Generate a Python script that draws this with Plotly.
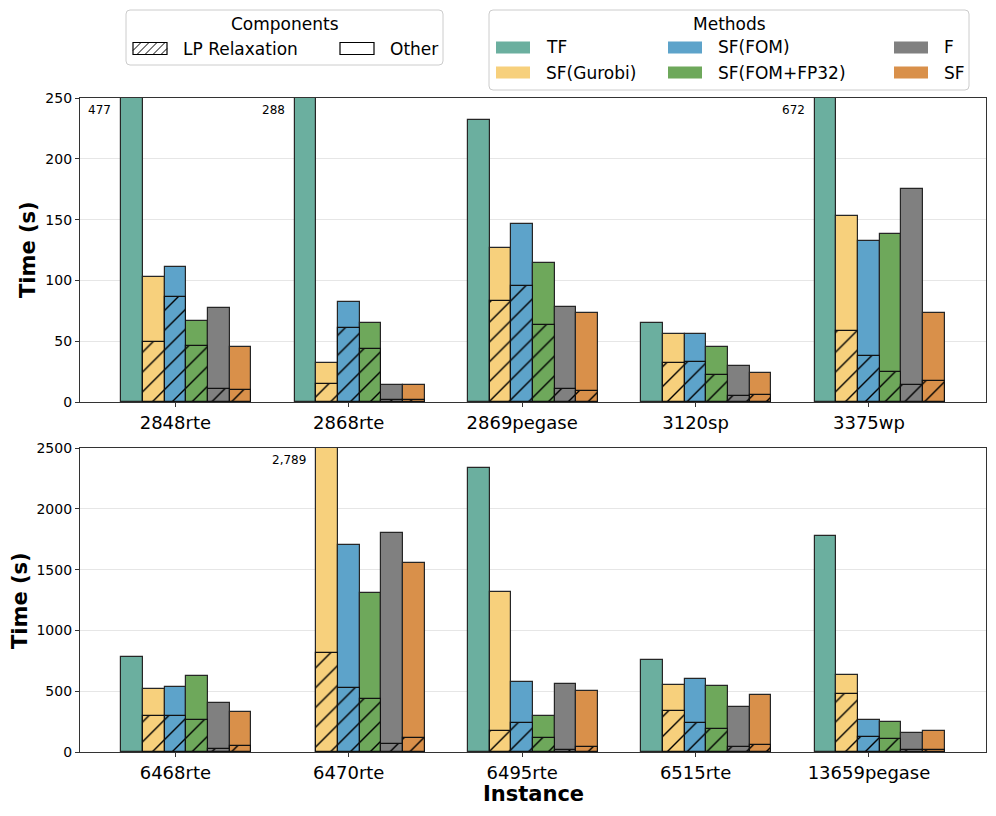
import plotly.graph_objects as go

# ---------------- data ----------------
methods = ["TF", "SF(Gurobi)", "SF(FOM)", "SF(FOM+FP32)", "F", "SF"]
colors = ["#6BAF9F", "#F7D07C", "#5DA3CA", "#6EA85B", "#808080", "#D9904A"]

top_instances = ["2848rte", "2868rte", "2869pegase", "3120sp", "3375wp"]
bottom_instances = ["6468rte", "6470rte", "6495rte", "6515rte", "13659pegase"]

# total time (s) per method, top panel
top_tf = [477, 288, 232, 65, 672]
top_gurobi = [103, 32, 127, 56, 153]
top_fom = [111, 82, 146, 56, 132]
top_fp32 = [67, 65, 114, 45, 138]
top_f = [77, 14, 78, 30, 175]
top_sf = [45, 14, 73, 24, 73]

# LP relaxation time (s), top panel
top_lp_tf = [None, None, None, None, None]
top_lp_gurobi = [49, 15, 83, 32, 58]
top_lp_fom = [86, 61, 95, 33, 38]
top_lp_fp32 = [46, 44, 63, 22, 25]
top_lp_f = [11, 2, 11, 5, 14]
top_lp_sf = [10, 2, 9, 6, 17]

# total time (s) per method, bottom panel
bot_tf = [783, None, 2336, 753, 1778]
bot_gurobi = [519, 2789, 1316, 550, 632]
bot_fom = [531, 1701, 577, 599, 261]
bot_fp32 = [626, 1308, 294, 539, 247]
bot_f = [399, 1805, 560, 371, 160]
bot_sf = [330, 1558, 503, 470, 170]

# LP relaxation time (s), bottom panel
bot_lp_tf = [None, None, None, None, None]
bot_lp_gurobi = [292, 811, 173, 338, 481]
bot_lp_fom = [292, 525, 239, 236, 121]
bot_lp_fp32 = [261, 440, 115, 187, 105]
bot_lp_f = [27, 63, 20, 41, 14]
bot_lp_sf = [52, 119, 39, 58, 20]

top_ticks = [0, 50, 100, 150, 200, 250]
bot_ticks = [0, 500, 1000, 1500, 2000, 2500]

# ---------------- layout constants ----------------
OFF = 8  # page body margin in the browser
W_FIG, H_FIG = 996 - OFF, 816 - OFF
ML, MR = 80 - OFF, 10
MT, MB = 98 - OFF, 64
PW = W_FIG - ML - MR
PH = H_FIG - MT - MB
BAR_W = 0.125
FONT = "DejaVu Sans"


def px(x):
    # screen pixel -> paper x
    return (x - OFF - ML) / PW


def py(y):
    # screen pixel -> paper y
    return (H_FIG - MB - (y - OFF)) / PH


panels = [
    dict(xa="x", ya="y", inst=top_instances, ymax=250, ticks=top_ticks,
         totals=[top_tf, top_gurobi, top_fom, top_fp32, top_f, top_sf],
         lps=[top_lp_tf, top_lp_gurobi, top_lp_fom, top_lp_fp32, top_lp_f, top_lp_sf]),
    dict(xa="x2", ya="y2", inst=bottom_instances, ymax=2500, ticks=bot_ticks,
         totals=[bot_tf, bot_gurobi, bot_fom, bot_fp32, bot_f, bot_sf],
         lps=[bot_lp_tf, bot_lp_gurobi, bot_lp_fom, bot_lp_fp32, bot_lp_f, bot_lp_sf]),
]

fig = go.Figure()
annotations = []

for p in panels:
    n = len(p["inst"])
    for i, m in enumerate(methods):
        xs = [k + (i - 2) * BAR_W for k in range(n)]
        fig.add_trace(go.Bar(
            x=xs, y=p["totals"][i], width=BAR_W, xaxis=p["xa"], yaxis=p["ya"],
            marker=dict(color=colors[i], line=dict(color="#262626", width=1.2)),
            name=m, showlegend=False, hoverinfo="skip"))
    for i, m in enumerate(methods):
        if all(v is None for v in p["lps"][i]):
            continue
        xs = [k + (i - 2) * BAR_W for k in range(n)]
        fig.add_trace(go.Bar(
            x=xs, y=p["lps"][i], width=BAR_W, xaxis=p["xa"], yaxis=p["ya"],
            marker=dict(color=colors[i], line=dict(color="#111111", width=1.2),
                        pattern=dict(shape="/", size=14, solidity=0.1,
                                     fgcolor="#000000", bgcolor=colors[i],
                                     fillmode="replace")),
            name=m + " LP", showlegend=False, hoverinfo="skip"))
    for i, m in enumerate(methods):
        for k, v in enumerate(p["totals"][i]):
            if v is not None and v > p["ymax"]:
                annotations.append(dict(
                    x=k + (i - 2) * BAR_W - BAR_W / 2, xref=p["xa"],
                    y=1 - 12 / 304, yref=p["ya"] + " domain",
                    text=f"{v:,}", showarrow=False, xanchor="right", yanchor="middle",
                    xshift=-8, font=dict(size=12, color="black", family=FONT)))

axis_common = dict(showline=True, mirror=True, linecolor="#333333", linewidth=1.2,
                   ticks="outside", ticklen=4, tickcolor="#333333", tickwidth=1,
                   zeroline=False)

top_dom = [py(402), 1.0]
bot_dom = [0.0, py(448)]

fig.update_layout(
    width=W_FIG, height=H_FIG,
    margin=dict(l=ML, r=MR, t=MT, b=MB),
    paper_bgcolor="white", plot_bgcolor="white",
    font=dict(family=FONT, color="black"),
    barmode="overlay", bargap=0,
    showlegend=False,
    xaxis=dict(domain=[0, 1], anchor="y", range=[-0.55, 4.675],
               tickvals=list(range(len(top_instances))), ticktext=top_instances,
               tickfont=dict(size=18), showgrid=False, **axis_common),
    yaxis=dict(domain=top_dom, anchor="x", range=[0, 250], tickvals=top_ticks,
               tickfont=dict(size=14), showgrid=True, gridcolor="#e6e6e6", gridwidth=1,
               **axis_common),
    xaxis2=dict(domain=[0, 1], anchor="y2", range=[-0.55, 4.675],
                tickvals=list(range(len(bottom_instances))), ticktext=bottom_instances,
                tickfont=dict(size=18), showgrid=False, **axis_common),
    yaxis2=dict(domain=bot_dom, anchor="x2", range=[0, 2500], tickvals=bot_ticks,
                tickfont=dict(size=14), showgrid=True, gridcolor="#e6e6e6", gridwidth=1,
                **axis_common),
)

annotations.append(dict(x=px(28), y=py(250), xref="paper", yref="paper", text="<b>Time (s)</b>",
                        textangle=-90, showarrow=False, xanchor="center", yanchor="middle",
                        font=dict(size=21, family=FONT, color="black")))
annotations.append(dict(x=px(20), y=py(600), xref="paper", yref="paper", text="<b>Time (s)</b>",
                        textangle=-90, showarrow=False, xanchor="center", yanchor="middle",
                        font=dict(size=21, family=FONT, color="black")))
annotations.append(dict(x=px(533), y=py(794), xref="paper", yref="paper", text="<b>Instance</b>",
                        showarrow=False, xanchor="center", yanchor="middle",
                        font=dict(size=21, family=FONT, color="black")))

shapes = []


def rounded_box(x0, y0, x1, y1, r=4):
    pts = (f"M {px(x0 + r)},{py(y0)} L {px(x1 - r)},{py(y0)} Q {px(x1)},{py(y0)} {px(x1)},{py(y0 + r)} "
           f"L {px(x1)},{py(y1 - r)} Q {px(x1)},{py(y1)} {px(x1 - r)},{py(y1)} "
           f"L {px(x0 + r)},{py(y1)} Q {px(x0)},{py(y1)} {px(x0)},{py(y1 - r)} "
           f"L {px(x0)},{py(y0 + r)} Q {px(x0)},{py(y0)} {px(x0 + r)},{py(y0)} Z")
    return dict(type="path", path=pts, xref="paper", yref="paper",
                line=dict(color="#cccccc", width=1), fillcolor="rgba(255,255,255,0.9)", layer="above")


def rect(x0, y0, x1, y1, fill, line_color=None, lw=1):
    return dict(type="rect", x0=px(x0), x1=px(x1), y0=py(y1), y1=py(y0), xref="paper", yref="paper",
                fillcolor=fill, line=dict(color=line_color or "rgba(0,0,0,0)", width=lw if line_color else 0),
                layer="above")


def hatch_lines(x0, y0, x1, y1, spacing=8):
    out = []
    h = y1 - y0
    c = x0 - h
    while c < x1:
        t0 = max(0, x0 - c)
        t1 = min(h, x1 - c)
        if t1 > t0:
            out.append(dict(type="line", x0=px(c + t0), y0=py(y1 - t0), x1=px(c + t1), y1=py(y1 - t1),
                            xref="paper", yref="paper", line=dict(color="black", width=1), layer="above"))
        c += spacing
    return out


LF = 17
legend_font = dict(size=LF, family=FONT, color="black")
SW_W, SW_H = 34, 12

# Components legend
shapes.append(rounded_box(126, 10, 443, 65))
annotations.append(dict(x=px(284.5), y=py(24), xref="paper", yref="paper", text="Components",
                        showarrow=False, xanchor="center", yanchor="middle", font=legend_font))
comp_y = 48.5
shapes.append(rect(133, comp_y - SW_H / 2, 133 + SW_W, comp_y + SW_H / 2, "white"))
shapes.extend(hatch_lines(133, comp_y - SW_H / 2, 133 + SW_W, comp_y + SW_H / 2, spacing=8))
shapes.append(rect(133, comp_y - SW_H / 2, 133 + SW_W, comp_y + SW_H / 2, "rgba(0,0,0,0)", "black", 1.2))
annotations.append(dict(x=px(180.5), y=py(comp_y), xref="paper", yref="paper", text="LP Relaxation",
                        showarrow=False, xanchor="left", yanchor="middle", font=legend_font))
shapes.append(rect(340, comp_y - SW_H / 2, 340 + SW_W, comp_y + SW_H / 2, "white", "black", 1.2))
annotations.append(dict(x=px(388), y=py(comp_y), xref="paper", yref="paper", text="Other",
                        showarrow=False, xanchor="left", yanchor="middle", font=legend_font))

# Methods legend
shapes.append(rounded_box(489, 10, 969, 90))
annotations.append(dict(x=px(729), y=py(24), xref="paper", yref="paper", text="Methods",
                        showarrow=False, xanchor="center", yanchor="middle", font=legend_font))
col_sw = [496, 668, 894]
col_tx = [543.5, 715.5, 942]
row_y = [47.5, 72.5]
for i, m in enumerate(methods):
    col, row = i // 2, i % 2
    yc = row_y[row]
    shapes.append(rect(col_sw[col], yc - SW_H / 2, col_sw[col] + SW_W, yc + SW_H / 2, colors[i]))
    annotations.append(dict(x=px(col_tx[col]), y=py(yc), xref="paper", yref="paper", text=m,
                            showarrow=False, xanchor="left", yanchor="middle", font=legend_font))

fig.update_layout(annotations=annotations, shapes=shapes)

fig.write_html("out.html")
